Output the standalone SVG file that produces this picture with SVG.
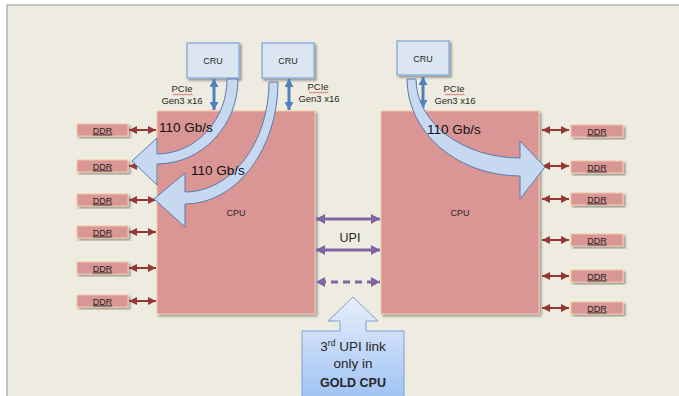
<svg xmlns="http://www.w3.org/2000/svg" width="679" height="396" viewBox="0 0 679 396">
<defs>
<style>
.t{font-family:"Liberation Sans",Arial,sans-serif;fill:#262626}
.cpu{fill:#D99694;stroke:#F4C8A4;stroke-width:1}
.ddr{fill:#D99694;stroke:#F4C8A4;stroke-width:1}
.cru{fill:#DCE6F2;stroke:#8EB0DC;stroke-width:1.5}
.ddrl{stroke:#953735;stroke-width:2;fill:none;marker-start:url(#ddrHead);marker-end:url(#ddrHead)}
.pcie{stroke:#4F81BD;stroke-width:3;fill:none;marker-start:url(#pcieHead);marker-end:url(#pcieHead)}
.upi{stroke:#8064A2;stroke-width:3;fill:none;marker-start:url(#upiHead);marker-end:url(#upiHead)}
.big{fill:#C6D9F1;stroke:#5A7BAA;stroke-width:1}
.sq{fill:none;stroke:#E03030;stroke-width:0.7}
</style>
<filter id="sh" x="-10%" y="-10%" width="130%" height="130%">
<feDropShadow dx="2" dy="2" stdDeviation="1.2" flood-color="#000" flood-opacity="0.35"/>
</filter>
<marker id="ddrHead" viewBox="0 0 8 8" refX="8" refY="4" markerWidth="8" markerHeight="8" markerUnits="userSpaceOnUse" orient="auto-start-reverse"><path d="M0,0 L8,4 L0,8 z" fill="#953735"/></marker>
<marker id="pcieHead" viewBox="0 0 8 9" refX="8" refY="4.5" markerWidth="8" markerHeight="9" markerUnits="userSpaceOnUse" orient="auto-start-reverse"><path d="M0,0 L8,4.5 L0,9 z" fill="#4F81BD"/></marker>
<marker id="upiHead" viewBox="0 0 9 10" refX="9" refY="5" markerWidth="9" markerHeight="10" markerUnits="userSpaceOnUse" orient="auto-start-reverse"><path d="M0,0 L9,5 L0,10 z" fill="#8064A2"/></marker>
<linearGradient id="cg" x1="0" y1="0" x2="0" y2="1">
<stop offset="0" stop-color="#E8EFFB"/>
<stop offset="1" stop-color="#9EC2F4"/>
</linearGradient>
</defs>
<rect x="0" y="0" width="679" height="396" fill="#FFFFFF"/>
<rect x="7" y="5" width="680" height="400" fill="#EEECE1" stroke="#A3A3A3" stroke-width="1.2"/>

<g id="cpu-left"><rect class="cpu" filter="url(#sh)" x="157" y="111" width="158" height="203"/><text class="t" x="236" y="216" font-size="9" text-anchor="middle">CPU</text></g>
<g id="cpu-right"><rect class="cpu" filter="url(#sh)" x="381" y="111" width="158" height="203"/><text class="t" x="460" y="216" font-size="9" text-anchor="middle">CPU</text></g>

<g id="cru-1"><rect class="cru" filter="url(#sh)" x="187" y="43" width="52" height="35"/><text class="t" x="213" y="64" font-size="9" text-anchor="middle">CRU</text></g>
<g id="cru-2"><rect class="cru" filter="url(#sh)" x="262" y="43" width="52" height="35"/><text class="t" x="288" y="64" font-size="9" text-anchor="middle">CRU</text></g>
<g id="cru-3"><rect class="cru" filter="url(#sh)" x="397" y="41" width="52" height="34"/><text class="t" x="423" y="62" font-size="9" text-anchor="middle">CRU</text></g>

<g id="ddr-l1"><rect class="ddr" filter="url(#sh)" x="77" y="124" width="51" height="12"/><text class="t" x="102.5" y="133.5" font-size="9" text-anchor="middle" text-decoration="underline">DDR</text></g>
<g id="ddr-l2"><rect class="ddr" filter="url(#sh)" x="77" y="160" width="51" height="12"/><text class="t" x="102.5" y="169.5" font-size="9" text-anchor="middle" text-decoration="underline">DDR</text></g>
<g id="ddr-l3"><rect class="ddr" filter="url(#sh)" x="77" y="194" width="51" height="12"/><text class="t" x="102.5" y="203.5" font-size="9" text-anchor="middle" text-decoration="underline">DDR</text></g>
<g id="ddr-l4"><rect class="ddr" filter="url(#sh)" x="77" y="226" width="51" height="12"/><text class="t" x="102.5" y="235.5" font-size="9" text-anchor="middle" text-decoration="underline">DDR</text></g>
<g id="ddr-l5"><rect class="ddr" filter="url(#sh)" x="77" y="262" width="51" height="12"/><text class="t" x="102.5" y="271.5" font-size="9" text-anchor="middle" text-decoration="underline">DDR</text></g>
<g id="ddr-l6"><rect class="ddr" filter="url(#sh)" x="77" y="295" width="51" height="12"/><text class="t" x="102.5" y="304.5" font-size="9" text-anchor="middle" text-decoration="underline">DDR</text></g>

<g id="ddr-r1"><rect class="ddr" filter="url(#sh)" x="571" y="125" width="52" height="12"/><text class="t" x="597" y="134.5" font-size="9" text-anchor="middle" text-decoration="underline">DDR</text></g>
<g id="ddr-r2"><rect class="ddr" filter="url(#sh)" x="571" y="161" width="52" height="12"/><text class="t" x="597" y="170.5" font-size="9" text-anchor="middle" text-decoration="underline">DDR</text></g>
<g id="ddr-r3"><rect class="ddr" filter="url(#sh)" x="571" y="193" width="52" height="12"/><text class="t" x="597" y="202.5" font-size="9" text-anchor="middle" text-decoration="underline">DDR</text></g>
<g id="ddr-r4"><rect class="ddr" filter="url(#sh)" x="571" y="234" width="52" height="12"/><text class="t" x="597" y="243.5" font-size="9" text-anchor="middle" text-decoration="underline">DDR</text></g>
<g id="ddr-r5"><rect class="ddr" filter="url(#sh)" x="571" y="270" width="52" height="12"/><text class="t" x="597" y="279.5" font-size="9" text-anchor="middle" text-decoration="underline">DDR</text></g>
<g id="ddr-r6"><rect class="ddr" filter="url(#sh)" x="571" y="302" width="52" height="12"/><text class="t" x="597" y="311.5" font-size="9" text-anchor="middle" text-decoration="underline">DDR</text></g>

<g id="connectors">
<line class="ddrl" x1="129" y1="130" x2="156" y2="130"/>
<line class="ddrl" x1="129" y1="166" x2="156" y2="166"/>
<line class="ddrl" x1="129" y1="200" x2="156" y2="200"/>
<line class="ddrl" x1="129" y1="232" x2="156" y2="232"/>
<line class="ddrl" x1="129" y1="268" x2="156" y2="268"/>
<line class="ddrl" x1="129" y1="301" x2="156" y2="301"/>
<line class="ddrl" x1="542" y1="130" x2="569" y2="130"/>
<line class="ddrl" x1="542" y1="166" x2="569" y2="166"/>
<line class="ddrl" x1="542" y1="199" x2="569" y2="199"/>
<line class="ddrl" x1="542" y1="240" x2="569" y2="240"/>
<line class="ddrl" x1="542" y1="276" x2="569" y2="276"/>
<line class="ddrl" x1="542" y1="308" x2="569" y2="308"/>
<line class="pcie" x1="214" y1="79" x2="214" y2="110"/>
<line class="pcie" x1="289" y1="79" x2="289" y2="110"/>
<line class="pcie" x1="423" y1="77" x2="423" y2="108"/>
<line class="upi" x1="316" y1="219" x2="380" y2="219"/>
<line class="upi" x1="316" y1="250" x2="380" y2="250"/>
<line class="upi" x1="316" y1="282" x2="380" y2="282" stroke-dasharray="7 5" stroke-dashoffset="-3"/>
<path id="flow-1" class="big" d="M227,79 L238,79 A81,85 0 0 1 157,164 L157,185 L132,161 L157,138 L157,154 A70,75 0 0 0 227,79 Z"/>
<path id="flow-2" class="big" d="M269,82 L278,82 A93,122 0 0 1 185,204 L185,227 L154,199 L185,173 L185,192 A84,110 0 0 0 269,82 Z"/>
<path id="flow-3" class="big" d="M407,79 L416,79 A104,79 0 0 0 520,158 L520,141 L545,167 L520,199 L520,176 A113,97 0 0 1 407,79 Z"/>
</g>

<g id="labels">
<text class="t" x="182" y="92" font-size="9.5" text-anchor="middle">PCIe</text>
<path class="sq" d="M173,94 l1.5,1 l1.5,-1 l1.5,1 l1.5,-1 l1.5,1 l1.5,-1 l1.5,1 l1.5,-1 l1.5,1 l1.5,-1 l1.5,1 l1.5,-1 l1.5,1"/>
<text class="t" x="182" y="104" font-size="9.5" text-anchor="middle">Gen3 x16</text>
<text class="t" x="318" y="90" font-size="9.5" text-anchor="middle">PCIe</text>
<path class="sq" d="M309,92 l1.5,1 l1.5,-1 l1.5,1 l1.5,-1 l1.5,1 l1.5,-1 l1.5,1 l1.5,-1 l1.5,1 l1.5,-1 l1.5,1 l1.5,-1 l1.5,1"/>
<text class="t" x="319" y="102" font-size="9.5" text-anchor="middle">Gen3 x16</text>
<text class="t" x="454" y="92" font-size="9.5" text-anchor="middle">PCIe</text>
<path class="sq" d="M445,94 l1.5,1 l1.5,-1 l1.5,1 l1.5,-1 l1.5,1 l1.5,-1 l1.5,1 l1.5,-1 l1.5,1 l1.5,-1 l1.5,1 l1.5,-1 l1.5,1"/>
<text class="t" x="455" y="104" font-size="9.5" text-anchor="middle">Gen3 x16</text>
<text class="t" x="159" y="132" font-size="13.5" style="fill:#111">110 Gb/s</text>
<text class="t" x="191" y="175" font-size="13.5" style="fill:#111">110 Gb/s</text>
<text class="t" x="427" y="134" font-size="13.5" style="fill:#111">110 Gb/s</text>
<text class="t" x="350" y="242" font-size="12.5" text-anchor="middle">UPI</text>
</g>

<g id="callout">
<path d="M353,297 L378,321 L366,321 L366,331 L404,331 L404,400 L302,400 L302,331 L340,331 L340,321 L328,321 Z" fill="url(#cg)" stroke="#7D9FD2" stroke-width="1"/>
<text class="t" x="353" y="351" font-size="13.5" text-anchor="middle">3<tspan font-size="8.5" dy="-5">rd</tspan><tspan dy="5"> UPI link</tspan></text>
<text class="t" x="353" y="368" font-size="13.5" text-anchor="middle">only in</text>
<text class="t" x="353" y="387" font-size="12.5" font-weight="bold" text-anchor="middle">GOLD CPU</text>
</g>
</svg>
